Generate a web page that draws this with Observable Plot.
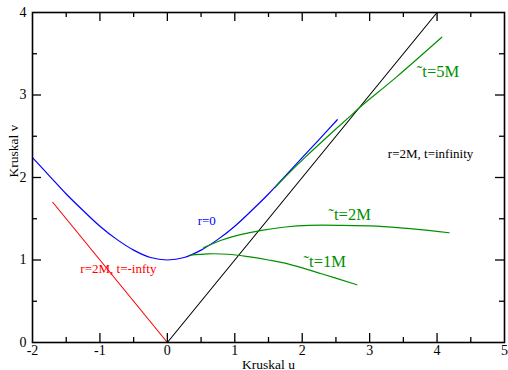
<!DOCTYPE html>
<html>
<head>
<meta charset="utf-8">
<script src="https://cdn.jsdelivr.net/npm/d3@7"></script>
<script src="https://cdn.jsdelivr.net/npm/@observablehq/plot@0.6"></script>
<style>
  html, body { margin: 0; padding: 0; background: #fff; font-family: "Liberation Serif"; }
  #chart svg { display: block; }
</style>
</head>
<body>
<div id="chart"></div>
<script>
// Kruskal diagram: singularity, horizons and constant-time slices.
const xTickValues = [-2, -1, 0, 1, 2, 3, 4, 5];
const yTickValues = [0, 1, 2, 3, 4];
const xMajorInner = [-1, 0, 1, 2, 3, 4];
const yMajorInner = [1, 2, 3];
const xMinor = [-1.5, -0.5, 0.5, 1.5, 2.5, 3.5, 4.5];
const yMinor = [0.5, 1.5, 2.5, 3.5];

// r = 0 (singularity)
const singU = [-2.0, -1.75, -1.5, -1.25, -1.0, -0.75, -0.5, -0.25, 0, 0.25, 0.5, 0.75, 1.0, 1.25, 1.5, 1.75, 2.0, 2.25, 2.52];
const singV = [2.24, 2.02, 1.80, 1.60, 1.41, 1.25, 1.12, 1.03, 1.0, 1.03, 1.12, 1.25, 1.41, 1.60, 1.80, 2.02, 2.24, 2.46, 2.70];

// r = 2M, t = -infinity (past horizon)
const pastU = [-1.7, 0];
const pastV = [1.7, 0];

// r = 2M, t = infinity (future horizon)
const futU = [0, 4];
const futV = [0, 4];

// slices of constant ~t
const t1U = [0.34, 0.6, 0.9, 1.2, 1.5, 1.8, 2.3, 2.81];
const t1V = [1.06, 1.075, 1.07, 1.04, 1.0, 0.95, 0.83, 0.70];
const t2U = [0.54, 0.8, 1.1, 1.4, 1.75, 2.1, 2.6, 3.1, 3.6, 4.18];
const t2V = [1.15, 1.24, 1.31, 1.36, 1.40, 1.42, 1.42, 1.41, 1.38, 1.33];
const t5U = [1.6, 1.8, 2.05, 2.3, 2.72, 2.84, 3.4, 4.07];
const t5V = [1.88, 2.05, 2.25, 2.44, 2.75, 2.84, 3.22, 3.70];

const pts = (us, vs) => us.map((u, i) => ({u, v: vs[i]}));

const W = 508, H = 370;
const mTop = 12, mBottom = 28, mLeft = 32, mRight = 4;
const plotH = H - mTop - mBottom;
const plotW = W - mLeft - mRight;
const majorLen = 9, minorLen = 5;
const green = "#009000";
const font = "Liberation Serif";

const label = (s, u, v, fill, size) =>
  Plot.text([s], {x: u, y: v, text: d => d, fill, fontSize: size, fontFamily: font, textAnchor: "start", lineAnchor: "bottom"});

const chart = Plot.plot({
  width: W,
  height: H,
  marginTop: mTop,
  marginBottom: mBottom,
  marginLeft: mLeft,
  marginRight: mRight,
  style: {background: "#fff", color: "#000", fontFamily: font},
  x: {domain: [-2, 5], axis: null},
  y: {domain: [0, 4], axis: null},
  marks: [
    // curves
    Plot.line(pts(futU, futV), {x: "u", y: "v", stroke: "#000", strokeWidth: 1.1}),
    Plot.line(pts(pastU, pastV), {x: "u", y: "v", stroke: "#ff0000", strokeWidth: 1.1}),
    Plot.line(pts(singU, singV), {x: "u", y: "v", stroke: "#0000ff", strokeWidth: 1.2, curve: "catmull-rom"}),
    Plot.line(pts(t1U, t1V), {x: "u", y: "v", stroke: green, strokeWidth: 1.2, curve: "catmull-rom"}),
    Plot.line(pts(t2U, t2V), {x: "u", y: "v", stroke: green, strokeWidth: 1.2, curve: "catmull-rom"}),
    Plot.line(pts(t5U, t5V), {x: "u", y: "v", stroke: green, strokeWidth: 1.2, curve: "catmull-rom"}),

    // annotations
    label("r=0", 0.45, 1.43, "#0000ff", 13),
    label("r=2M, t=-infty", -1.29, 0.84, "#ff0000", 13),
    label("r=2M, t=infinity", 3.27, 2.24, "#000", 13),
    label("˜t=1M", 2.02, 0.92, green, 16.5),
    label("˜t=2M", 2.39, 1.49, green, 16.5),
    label("˜t=5M", 3.70, 3.22, green, 16.5),

    // inward ticks on all four sides
    Plot.tickX(xMajorInner, {x: d => d, insetTop: plotH - majorLen, stroke: "#000", strokeWidth: 1.3}),
    Plot.tickX(xMajorInner, {x: d => d, insetBottom: plotH - majorLen, stroke: "#000", strokeWidth: 1.3}),
    Plot.tickX(xMinor, {x: d => d, insetTop: plotH - minorLen, stroke: "#000", strokeWidth: 1.3}),
    Plot.tickX(xMinor, {x: d => d, insetBottom: plotH - minorLen, stroke: "#000", strokeWidth: 1.3}),
    Plot.tickY(yMajorInner, {y: d => d, insetRight: plotW - majorLen, stroke: "#000", strokeWidth: 1.3}),
    Plot.tickY(yMajorInner, {y: d => d, insetLeft: plotW - majorLen, stroke: "#000", strokeWidth: 1.3}),
    Plot.tickY(yMinor, {y: d => d, insetRight: plotW - minorLen, stroke: "#000", strokeWidth: 1.3}),
    Plot.tickY(yMinor, {y: d => d, insetLeft: plotW - minorLen, stroke: "#000", strokeWidth: 1.3}),
    Plot.frame({stroke: "#000", strokeWidth: 1.6}),

    // tick labels
    Plot.axisX(xTickValues, {anchor: "bottom", tickSize: 0, tickPadding: 3, tickFormat: d => String(d), label: null, fontSize: 14, fontFamily: font}),
    Plot.axisY(yTickValues, {anchor: "left", tickSize: 0, tickPadding: 6, tickFormat: d => String(d), label: null, fontSize: 14, fontFamily: font}),

    // axis titles
    Plot.text(["Kruskal u"], {frameAnchor: "bottom", dy: 26, text: d => d, fontSize: 13.5, fontFamily: font, lineAnchor: "bottom"}),
    Plot.text(["Kruskal v"], {frameAnchor: "left", dx: -15, rotate: -90, text: d => d, fontSize: 13.5, fontFamily: font, lineAnchor: "bottom"})
  ]
});

chart.setAttribute("font-family", font);
document.getElementById("chart").append(chart);
</script>
</body>
</html>
